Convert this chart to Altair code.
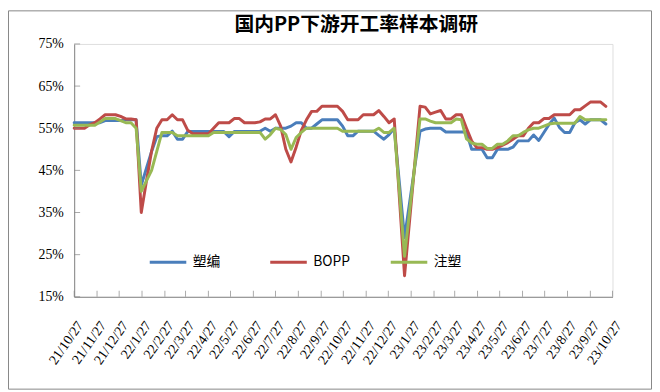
import altair as alt
import pandas as pd

# ---------------- data ----------------
series_names = ["塑编", "BOPP", "注塑"]
series_colors = ["#4A7EBB", "#BE4B48", "#98B954"]
start_date = "2021-10-27"
n_points = 104

weave = [56.3, 56.3, 56.3, 56.3, 56.3, 56.3, 56.8, 56.8, 56.8, 56.8,
         57.0, 57.0, 57.0, 41.5, 45.5, 49.5, 53.0, 53.2, 53.2, 54.3,
         52.4, 52.4, 54.2, 54.2, 54.2, 54.2, 54.2, 54.2, 54.2, 54.2,
         53.0, 54.2, 54.2, 54.2, 54.2, 54.2, 54.3, 55.0, 54.3, 55.0,
         55.0, 55.0, 55.5, 56.3, 56.3, 55.0, 55.0, 56.0, 57.0, 57.0,
         57.0, 57.0, 55.5, 53.2, 53.2, 54.3, 54.3, 54.3, 54.3, 53.3,
         52.4, 53.5, 55.0, 42.0, 29.0, 37.5, 46.0, 54.3, 54.8, 55.0,
         55.0, 55.0, 54.1, 54.1, 54.1, 54.1, 54.1, 50.0, 50.0, 50.0,
         48.0, 48.0, 50.0, 50.0, 50.0, 50.5, 52.0, 52.0, 52.0, 53.4,
         52.1, 54.0, 55.9, 57.4, 55.2, 54.0, 54.0, 56.3, 57.0, 56.0,
         57.0, 57.0, 57.0, 56.0]

bopp = [55.0, 55.0, 55.0, 55.8, 56.3, 57.2, 58.2, 58.2, 58.2, 57.8,
        57.2, 57.2, 57.0, 35.0, 42.5, 49.6, 55.0, 57.0, 57.0, 58.2,
        57.0, 57.0, 54.5, 53.7, 53.7, 53.7, 53.7, 55.0, 56.3, 56.3,
        56.3, 57.3, 57.3, 56.3, 56.3, 56.3, 56.5, 57.2, 57.2, 58.2,
        55.5, 50.0, 47.0, 50.5, 54.5, 57.0, 59.0, 59.0, 60.2, 60.2,
        60.2, 60.2, 59.0, 57.0, 57.0, 57.0, 58.2, 58.2, 58.2, 59.2,
        57.8, 56.3, 57.2, 38.6, 20.0, 33.4, 46.8, 60.2, 60.0, 58.4,
        58.8, 59.2, 57.2, 57.2, 58.2, 58.2, 55.0, 52.0, 50.4, 50.4,
        50.0, 50.0, 50.4, 51.0, 51.6, 52.4, 53.2, 53.2, 55.0, 56.3,
        56.3, 57.3, 57.3, 58.2, 58.2, 58.2, 58.2, 59.4, 59.4, 60.3,
        61.2, 61.2, 61.2, 60.2]

injection = [55.7, 55.7, 55.7, 55.7, 55.7, 56.5, 57.3, 57.3, 57.3, 56.8,
             56.3, 56.3, 55.0, 40.0, 42.5, 45.0, 49.5, 54.0, 54.0, 54.0,
             53.2, 53.2, 53.2, 53.2, 53.2, 53.2, 53.2, 54.0, 54.0, 54.0,
             54.0, 54.0, 54.0, 54.0, 54.0, 54.0, 54.0, 52.4, 53.5, 55.0,
             54.7, 53.5, 50.0, 52.8, 54.0, 55.0, 55.0, 55.0, 55.0, 55.0,
             55.0, 55.0, 54.3, 54.3, 54.3, 54.3, 54.3, 54.3, 54.3, 55.0,
             54.0, 54.0, 55.0, 40.0, 24.6, 35.5, 46.4, 57.2, 57.2, 56.7,
             56.3, 56.3, 56.3, 56.3, 57.2, 57.0, 52.5, 51.5, 51.2, 51.2,
             50.2, 50.2, 51.2, 51.2, 52.0, 53.2, 53.2, 54.0, 54.6, 55.0,
             55.0, 55.5, 56.0, 56.2, 56.2, 56.2, 56.2, 56.2, 57.8, 57.0,
             57.0, 57.0, 57.0, 57.0]

tick_months = [(2021, 10), (2021, 11), (2021, 12), (2022, 1), (2022, 2),
               (2022, 3), (2022, 4), (2022, 5), (2022, 6), (2022, 7),
               (2022, 8), (2022, 9), (2022, 10), (2022, 11), (2022, 12),
               (2023, 1), (2023, 2), (2023, 3), (2023, 4), (2023, 5),
               (2023, 6), (2023, 7), (2023, 8), (2023, 9), (2023, 10)]
tick_day = 27
y_ticks = [15, 25, 35, 45, 55, 65, 75]
title_text = "国内PP下游开工率样本调研"

# ---------------- tables ----------------
dates = pd.date_range(start_date, periods=n_points, freq="7D").strftime("%Y-%m-%d")
frames = []
for name, vals in zip(series_names, [weave, bopp, injection]):
    frames.append(pd.DataFrame({"date": dates, "value": vals, "series": name}))
df = pd.concat(frames, ignore_index=True)

tick_df = pd.DataFrame({"d": [f"{y:04d}-{m:02d}-{tick_day:02d}" for y, m in tick_months]})
ytick_df = pd.DataFrame({"v": y_ticks})

AX = "#868686"
x_scale = alt.Scale(type="utc",
                    domain=[alt.DateTime(year=2021, month=10, date=27, utc=True),
                            alt.DateTime(year=2023, month=10, date=27, utc=True)])
y_scale = alt.Scale(domain=[15, 75], nice=False, zero=False)

x_axis = alt.Axis(values=[alt.DateTime(year=y, month=m, date=tick_day, utc=True) for y, m in tick_months],
                  format="%y/%-m/%d", labelAngle=305, labelAlign="right", labelBaseline="middle",
                  labelPadding=26, labelOffset=6, labelFont="Liberation Serif", labelFontSize=14,
                  labelColor="black", ticks=False, tickSize=0, grid=False, domainColor=AX,
                  domainWidth=1, title=None, labelOverlap=False, labelBound=False, labelFlush=False)
y_axis = alt.Axis(values=y_ticks, labelExpr="datum.value + '%'", labelFont="Liberation Serif",
                  labelFontSize=14, labelColor="black", labelPadding=11, ticks=False, tickSize=0,
                  grid=False, domainColor=AX, domainWidth=1, title=None)

W, H = 545, 256
PAD = {"left": 67, "top": 34, "right": 40, "bottom": 94}

border = alt.Chart(pd.DataFrame({"k": [0]})).mark_rect(
    fillOpacity=0, stroke=AX, strokeWidth=1
).encode(
    x=alt.value(-PAD["left"] + 0.5), x2=alt.value(W + PAD["right"] - 0.5),
    y=alt.value(-PAD["top"] + 0.5), y2=alt.value(H + PAD["bottom"] - 0.5)
)

title = alt.Chart(pd.DataFrame({"k": [0]})).mark_text(
    font="Noto Sans CJK SC", fontSize=20, fontWeight="bold", color="black",
    align="center", baseline="middle"
).encode(x=alt.value(W / 2 + 13), y=alt.value(-19), text=alt.value(title_text))

lines = alt.Chart(df).mark_line(strokeWidth=3, strokeJoin="round", strokeCap="round").encode(
    x=alt.X("date:T", scale=x_scale, axis=x_axis),
    y=alt.Y("value:Q", scale=y_scale, axis=y_axis),
    color=alt.Color("series:N",
                    scale=alt.Scale(domain=series_names, range=series_colors),
                    sort=series_names,
                    legend=alt.Legend(orient="none", legendX=75, legendY=201, direction="horizontal",
                                      title=None, symbolType="stroke", symbolSize=1369,
                                      symbolStrokeWidth=3, labelFont="Noto Sans CJK SC",
                                      labelFontSize=14, labelColor="black", labelOffset=5,
                                      gridAlign="all", columnPadding=34)),
    detail="series:N"
)

xticks = alt.Chart(tick_df).mark_tick(orient="vertical", size=6, thickness=1, color=AX).encode(
    x=alt.X("d:T", scale=x_scale, axis=x_axis),
    y=alt.value(H - 3)
)
yticks = alt.Chart(ytick_df).mark_tick(orient="horizontal", size=6, thickness=1, color=AX).encode(
    y=alt.Y("v:Q", scale=y_scale, axis=y_axis),
    x=alt.value(3)
)

chart = alt.layer(border, title, lines, xticks, yticks).properties(
    width=W, height=H,
    autosize=alt.AutoSizeParams(type="none"),
    padding=PAD
).configure_view(stroke=None).configure(background="white")

chart.save("out.html", embed_options={"renderer": "svg", "actions": False})
